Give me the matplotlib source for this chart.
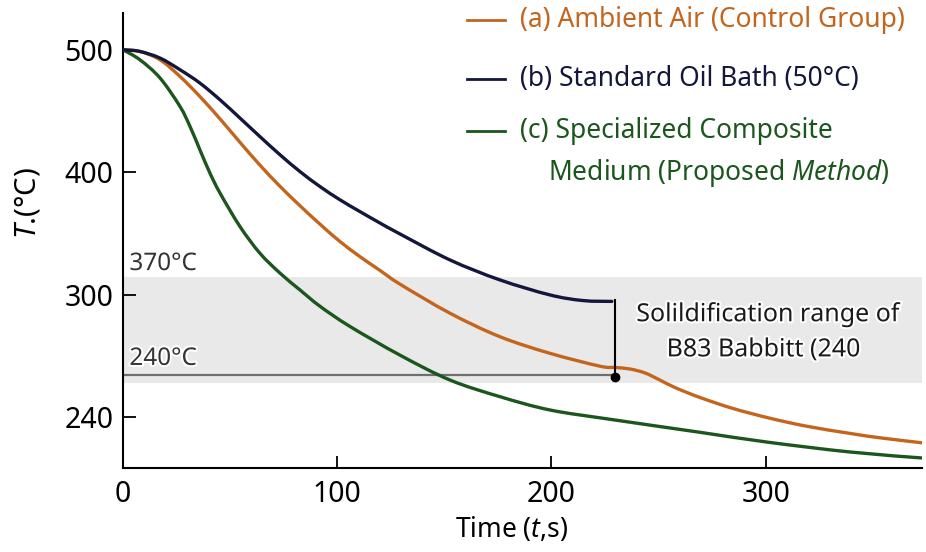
import numpy as np
import matplotlib
matplotlib.use("Agg")
import matplotlib.pyplot as plt
import matplotlib.patheffects as pe
from matplotlib.lines import Line2D
from matplotlib.path import Path
from matplotlib.patches import PathPatch

plt.rcParams['font.family'] = ['Noto Sans', 'DejaVu Sans']
plt.rcParams['mathtext.fontset'] = 'custom'
plt.rcParams['mathtext.rm'] = 'Noto Sans'
plt.rcParams['mathtext.it'] = 'Noto Sans:italic'

# curves (time s, temperature)
t_air = [0, 7.9, 17.3, 26.6, 35.9, 45.3, 54.6, 63.9, 73.3, 82.6, 91.9, 101.3, 110.6, 119.9, 129.3,
         152.6, 175.9, 199.3, 222.6, 229.6, 236.6, 243.6, 250.6, 257.6, 269.2, 284.6, 301.9,
         319.2, 339.2, 353.2, 372.8]
T_air = [500, 498.6, 491.8, 478.2, 461.8, 443.5, 424.4, 405.8, 388.4, 372.6, 357.6, 343.3, 331.0, 319.8, 308.5,
         284.8, 265.6, 252.0, 241.5, 240.4, 239.2, 236.0, 230.2, 224.1, 216.0, 207.0, 199.0,
         192.4, 186.6, 183.0, 178.9]

t_oil = [0, 7.9, 17.3, 26.6, 35.9, 45.3, 54.6, 63.9, 73.3, 82.6, 91.9, 101.3, 110.6, 119.9, 129.3,
         152.6, 175.9, 199.3, 214.7, 228.2]
T_oil = [500, 498.6, 493.2, 483.7, 472.8, 459.1, 444.2, 429.1, 414.2, 400.5, 388.3, 377.4, 367.8, 358.5, 349.5,
         328.3, 312.0, 299.7, 295.1, 294.4]

t_med = [0, 7.9, 17.3, 26.6, 31.3, 35.9, 40.6, 45.3, 54.6, 63.9, 73.3, 82.6, 91.9, 105.9, 129.3,
         152.6, 175.9, 199.3, 227.3, 269.2, 300.5, 339.2, 372.8]
T_med = [500, 491.8, 476.9, 453.7, 437.3, 418.3, 399.2, 382.9, 355.6, 333.8, 317.5, 303.8, 290.5, 274.0, 250.5,
         230.2, 216.6, 205.7, 198.1, 187.5, 179.5, 171.4, 166.5]

band_lo, band_hi = 227.8, 314.4
line_240 = 234.3
t_mark, T_mark = 229.6, 232.7
T_oil_end = 294.4

yticks = [500, 400, 300, 200]
yticklabels = ['500', '400', '300', '240']
xticks = [0, 100, 200, 300]

c_air = '#c3651d'
c_oil = '#13173b'
c_med = '#1b561d'


def curve(x, y):
    # smooth bezier path through the read points
    p = np.column_stack([x, y])
    verts = [p[0]]
    codes = [Path.MOVETO]
    for i in range(len(p) - 1):
        p0 = p[i - 1] if i > 0 else p[i]
        p3 = p[i + 2] if i + 2 < len(p) else p[i + 1]
        verts += [p[i] + (p[i + 1] - p0) / 6, p[i + 1] - (p3 - p[i]) / 6, p[i + 1]]
        codes += [Path.CURVE4] * 3
    return Path(verts, codes)


fig = plt.figure(figsize=(9.26, 5.52), dpi=100)
ax = fig.add_axes([0.1328, 0.1522, 0.8629, 0.8242])

ax.axhspan(band_lo, band_hi, color='#e9e9e9', zorder=0, lw=0)
ax.plot([0, t_mark], [line_240, line_240], color='#6e6e6e', lw=1.6, zorder=1)

for tx, ty, c, z in [(t_air, T_air, c_air, 3), (t_oil, T_oil, c_oil, 4), (t_med, T_med, c_med, 3)]:
    ax.add_patch(PathPatch(curve(tx, ty), fill=False, edgecolor=c, lw=2.4, zorder=z, capstyle='round'))

ax.plot([t_mark, t_mark], [T_oil_end + 1.5, T_mark], color='black', lw=1.5, zorder=5)
ax.plot([t_mark], [T_mark], 'o', color='black', ms=6, zorder=6)

glow = [pe.withStroke(linewidth=3, foreground='white')]
ax.text(3, 320, '370°C', fontsize=17.5, color='#333333', ha='left', va='baseline', path_effects=glow)
ax.text(3, 242.5, '240°C', fontsize=17.5, color='#333333', ha='left', va='baseline', path_effects=glow)
ax.text(301, 283.5, 'Solildification range of', fontsize=18, color='#1a1a1a', ha='center', va='center', path_effects=glow)
ax.text(299, 254.8, 'B83 Babbitt (240', fontsize=18, color='#1a1a1a', ha='center', va='center', path_effects=glow)

ax.set_xlim(0, 373)
ax.set_ylim(158.3, 530)
ax.set_yticks(yticks)
ax.set_yticklabels(yticklabels)
ax.set_xticks(xticks)
ax.tick_params(direction='in', length=9, width=1.3, labelsize=20.5, pad=7)
ax.tick_params(axis='x', pad=9)
for s in ['top', 'right']:
    ax.spines[s].set_visible(False)
for s in ['left', 'bottom']:
    ax.spines[s].set_linewidth(1.5)

fig.text(0.552, 0.04, r'Time ($t$,s)', fontsize=19, ha='center', va='center')
fig.text(0.03, 0.632, r'$T$.(°C)', fontsize=21, ha='center', va='center', rotation=90)

# legend drawn by hand
leg = [((0.504, 0.963), '(a) Ambient Air (Control Group)', c_air),
       ((0.504, 0.857), '(b) Standard Oil Bath (50°C)', c_oil),
       ((0.504, 0.762), '(c) Specialized Composite', c_med)]
for (x, y), lab, c in leg:
    fig.add_artist(Line2D([x, x + 0.041], [y, y], color=c, lw=2, transform=fig.transFigure))
    fig.text(0.5616, y, lab, fontsize=19, color=c, ha='left', va='center')
fig.text(0.592, 0.686, r'Medium (Proposed $Method$)', fontsize=19, color=c_med, ha='left', va='center')

fig.savefig('out.png', dpi=100)
